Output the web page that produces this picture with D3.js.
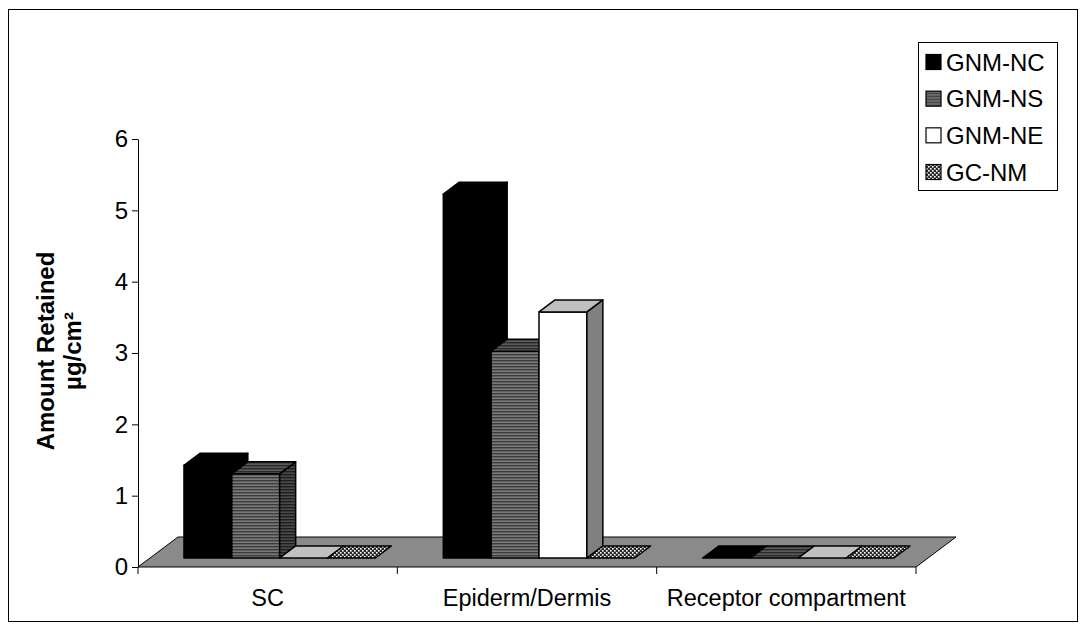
<!DOCTYPE html>
<html>
<head>
<meta charset="utf-8">
<script src="https://cdn.jsdelivr.net/npm/d3@7"></script>
<style>
  body { margin: 0; background: #fff; }
  svg { display: block; }
  text { font-family: Arial, "Liberation Sans", sans-serif; fill: #000; }
</style>
</head>
<body>
<svg id="chart" width="1086" height="631"></svg>
<script>
// ---- data ----
const categories = ["SC", "Epiderm/Dermis", "Receptor compartment"];
const seriesNames = ["GNM-NC", "GNM-NS", "GNM-NE", "GC-NM"];
const gnmNC = [1.3, 5.1, 0];
const gnmNS = [1.18, 2.9, 0];
const gnmNE = [0, 3.45, 0];
const gcNM  = [0, 0, 0];
const yTicks = [0, 1, 2, 3, 4, 5, 6];
const yTitle = ["Amount Retained", "µg/cm²"];

const seriesValues = [gnmNC, gnmNS, gnmNE, gcNM];

// ---- layout ----
const svg = d3.select("#chart");
const plotLeft = 138, plotRight = 916, plotBase = 567, plotTop = 139;
const DX = 40, DY = -30;          // receding depth of the floor
const dFront = 0.3, dBack = 0.7;  // depth span occupied by the columns

const x = d3.scaleBand().domain(categories).range([plotLeft, plotRight]);
const xs = d3.scaleBand().domain(seriesNames).range([0, x.bandwidth()])
  .paddingInner(0).paddingOuter(0.71);
const y = d3.scaleLinear().domain([0, 6]).range([plotBase, plotTop]);

// ---- fills ----
const defs = svg.append("defs");
function stripes(id, bg, fg) {
  const p = defs.append("pattern").attr("id", id).attr("patternUnits", "userSpaceOnUse")
    .attr("width", 6).attr("height", 3);
  p.append("rect").attr("width", 6).attr("height", 3).attr("fill", bg);
  p.append("rect").attr("width", 6).attr("height", 1.4).attr("fill", fg);
}
stripes("nsFront", "#7a7a7a", "#3c3c3c");
stripes("nsTop", "#5a5a5a", "#2a2a2a");
stripes("nsSide", "#4a4a4a", "#1e1e1e");
const chk = defs.append("pattern").attr("id", "checker").attr("patternUnits", "userSpaceOnUse")
  .attr("width", 4).attr("height", 4);
chk.append("rect").attr("width", 4).attr("height", 4).attr("fill", "#2a2a2a");
chk.append("rect").attr("x", 0).attr("y", 0).attr("width", 1.6).attr("height", 1.6).attr("fill", "#fff");
chk.append("rect").attr("x", 2).attr("y", 2).attr("width", 1.6).attr("height", 1.6).attr("fill", "#fff");

const styles = {
  "GNM-NC": { front: "#000", top: "#000", side: "#000", legend: "#000" },
  "GNM-NS": { front: "url(#nsFront)", top: "url(#nsTop)", side: "url(#nsSide)", legend: "url(#nsFront)" },
  "GNM-NE": { front: "#fff", top: "#c0c0c0", side: "#808080", legend: "#fff" },
  "GC-NM":  { front: "url(#checker)", top: "url(#checker)", side: "url(#checker)", legend: "url(#checker)" }
};

// ---- outer frame ----
svg.append("rect").attr("x", 8.5).attr("y", 9.5).attr("width", 1069).attr("height", 612)
  .attr("fill", "none").attr("stroke", "#000").attr("stroke-width", 1);

// ---- floor ----
const P = (px, py, d) => [px + d * DX, py + d * DY];
svg.append("path")
  .attr("d", d3.line()([P(plotLeft, plotBase, 0), P(plotRight, plotBase, 0), P(plotRight, plotBase, 1), P(plotLeft, plotBase, 1)]) + "Z")
  .attr("fill", "#8a8a8a").attr("stroke", "#000").attr("stroke-width", 1);

// ---- columns ----
const bars = svg.append("g");
const line = d3.line();
categories.forEach((cat, ci) => {
  seriesNames.forEach((s, si) => {
    const v = seriesValues[si][ci];
    const st = styles[s];
    const xl = x(cat) + xs(s), xr = xl + xs.bandwidth();
    const h = y(0) - y(v);
    const b = plotBase;
    const g = bars.append("g").attr("stroke", "#000").attr("stroke-width", 1.5)
      .attr("stroke-linejoin", "round");
    if (h > 0) {
      g.append("path").attr("fill", st.front)
        .attr("d", line([P(xl, b, dFront), P(xr, b, dFront), P(xr, b - h, dFront), P(xl, b - h, dFront)]) + "Z");
      g.append("path").attr("fill", st.side)
        .attr("d", line([P(xr, b, dFront), P(xr, b, dBack), P(xr, b - h, dBack), P(xr, b - h, dFront)]) + "Z");
    }
    g.append("path").attr("fill", st.top)
      .attr("d", line([P(xl, b - h, dFront), P(xr, b - h, dFront), P(xr, b - h, dBack), P(xl, b - h, dBack)]) + "Z");
  });
});

// ---- value axis ----
const yAxis = svg.append("g").attr("transform", `translate(${plotLeft},0)`)
  .call(d3.axisLeft(y).tickValues(yTicks).tickFormat(d3.format("d")).tickSize(6).tickSizeOuter(0).tickPadding(4));
yAxis.select(".domain").attr("stroke", "#000");
yAxis.selectAll(".tick line").attr("stroke", "#000");
yAxis.selectAll("text").attr("font-size", 24).attr("font-family", "Arial, 'Liberation Sans', sans-serif").attr("fill", "#000");

// ---- category axis ----
const bounds = categories.map(c => x(c)).concat([x(categories[categories.length - 1]) + x.bandwidth()]);
svg.append("g").selectAll("line").data(bounds).join("line")
  .attr("x1", d => d).attr("x2", d => d).attr("y1", plotBase).attr("y2", plotBase + 7)
  .attr("stroke", "#000");
svg.append("g").selectAll("text").data(categories).join("text")
  .attr("x", d => x(d) + x.bandwidth() / 2).attr("y", 606)
  .attr("text-anchor", "middle").attr("font-size", 23.5).text(d => d);

// ---- axis title ----
const title = svg.append("text").attr("transform", "translate(46,351) rotate(-90)")
  .attr("text-anchor", "middle").attr("font-weight", "bold").attr("font-size", 24);
title.append("tspan").attr("x", 0).attr("dy", "0.35em").text(yTitle[0]);
title.append("tspan").attr("x", 0).attr("dy", "1.1em").text(yTitle[1]);

// ---- legend ----
const lg = svg.append("g");
lg.append("rect").attr("x", 918.5).attr("y", 42.5).attr("width", 139).attr("height", 148)
  .attr("fill", "#fff").attr("stroke", "#000");
const ly = d3.scalePoint().domain(seriesNames).range([62, 172]);
const items = lg.selectAll("g.item").data(seriesNames).join("g").attr("class", "item")
  .attr("transform", d => `translate(926,${ly(d)})`);
items.append("rect").attr("x", 0).attr("y", -7.5).attr("width", 15).attr("height", 15)
  .attr("fill", d => styles[d].legend).attr("stroke", "#000").attr("stroke-width", 1.2);
items.append("text").attr("x", 20).attr("y", 0).attr("dy", "0.36em")
  .attr("font-size", 24).text(d => d);
</script>
</body>
</html>
